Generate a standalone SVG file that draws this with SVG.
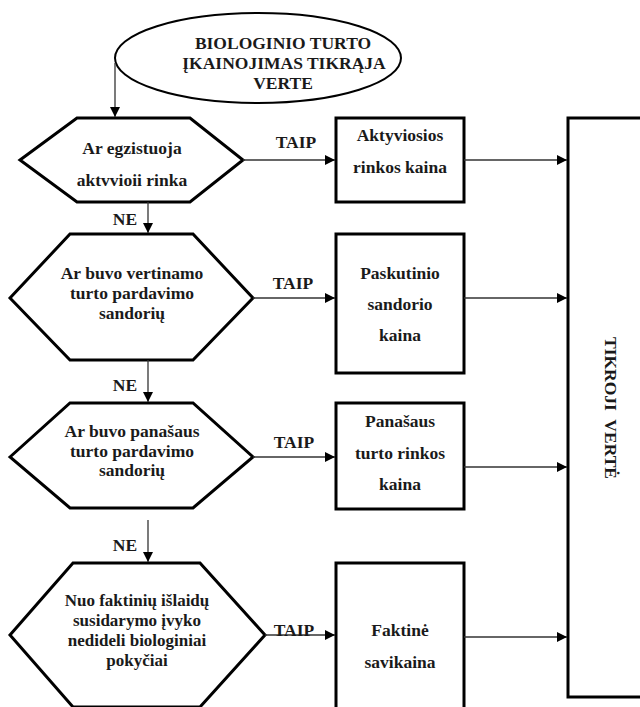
<svg xmlns="http://www.w3.org/2000/svg" width="640" height="707" viewBox="0 0 640 707">
<defs>
<marker id="ah" viewBox="0 0 10 10" refX="10" refY="5" markerWidth="10" markerHeight="10" markerUnits="userSpaceOnUse" orient="auto">
<path d="M0,0 L10,5 L0,10 z" fill="#000"/>
</marker>
</defs>
<style>
.sh{fill:#fff;stroke:#000;stroke-width:3;stroke-linejoin:miter}
.el{fill:#fff;stroke:#000;stroke-width:2}
text{font-family:'Liberation Serif','Times New Roman',serif;font-weight:bold;font-size:17.5px;fill:#1a1a1a;text-anchor:middle;dominant-baseline:central}
.sm{font-size:17px}
.c{fill:none;stroke:#333;stroke-width:1.3;marker-end:url(#ah)}
</style>
<rect width="640" height="707" fill="#fff"/>
<g id="start">
<ellipse class="el" cx="258" cy="58" rx="143" ry="45"/>
<text x="283" y="43">BIOLOGINIO TURTO</text>
<text x="284" y="63">ĮKAINOJIMAS TIKRĄJA</text>
<text x="283" y="83">VERTE</text>
</g>
<g id="q1">
<polygon class="sh" points="20,160 77,118 190,118 243,160 190,202 77,202"/>
<text x="132" y="148">Ar egzistuoja</text>
<text x="132" y="180">aktvvioii rinka</text>
</g>
<g id="q2">
<polygon class="sh" points="10,298 70,234 193,234 253,298 193,360 70,360"/>
<text x="132" y="273">Ar buvo vertinamo</text>
<text x="132" y="293">turto pardavimo</text>
<text x="132" y="313">sandorių</text>
</g>
<g id="q3">
<polygon class="sh" points="10,457 70,403 193,403 253,457 193,508 70,508"/>
<text x="132" y="431">Ar buvo panašaus</text>
<text x="132" y="451">turto pardavimo</text>
<text x="132" y="470">sandorių</text>
</g>
<g id="q4">
<polygon class="sh" points="10,635 73,563 200,563 265,635 200,707 73,707"/>
<text class="sm" x="137" y="600">Nuo faktinių išlaidų</text>
<text class="sm" x="137" y="620">susidarymo įvyko</text>
<text class="sm" x="137" y="640">nedideli biologiniai</text>
<text class="sm" x="137" y="660">pokyčiai</text>
</g>
<g id="b1">
<rect class="sh" x="336" y="118" width="128" height="84"/>
<text x="400" y="135">Aktyviosios</text>
<text x="400" y="167">rinkos kaina</text>
</g>
<g id="b2">
<rect class="sh" x="336" y="234" width="128" height="139"/>
<text x="400" y="273">Paskutinio</text>
<text x="400" y="304">sandorio</text>
<text x="400" y="335">kaina</text>
</g>
<g id="b3">
<rect class="sh" x="336" y="403" width="128" height="106"/>
<text x="400" y="421">Panašaus</text>
<text x="400" y="453">turto rinkos</text>
<text x="400" y="484">kaina</text>
</g>
<g id="b4">
<rect class="sh" x="336" y="563" width="128" height="160"/>
<text x="400" y="630">Faktinė</text>
<text x="400" y="662">savikaina</text>
</g>
<g id="result">
<rect class="sh" x="568" y="118" width="90" height="579"/>
<text transform="translate(611,408) rotate(90)" x="0" y="0" xml:space="preserve" style="white-space:pre">TIKROJI  VERTĖ</text>
</g>
<g id="connectors">
<path class="c" d="M115,63 V117"/>
<path class="c" d="M243,160 H335"/>
<path class="c" d="M464,160 H567"/>
<path class="c" d="M148,202 V233"/>
<path class="c" d="M253,298 H335"/>
<path class="c" d="M464,298 H567"/>
<path class="c" d="M148,360 V402"/>
<path class="c" d="M253,457 H335"/>
<path class="c" d="M464,467 H567"/>
<path class="c" d="M148,520 V562"/>
<path class="c" d="M265,635 H335"/>
<path class="c" d="M464,637 H567"/>
<text x="296" y="142">TAIP</text>
<text x="293" y="283">TAIP</text>
<text x="294" y="442">TAIP</text>
<text x="294" y="630">TAIP</text>
<text x="125" y="219">NE</text>
<text x="125" y="385">NE</text>
<text x="125" y="545">NE</text>
</g>
</svg>
